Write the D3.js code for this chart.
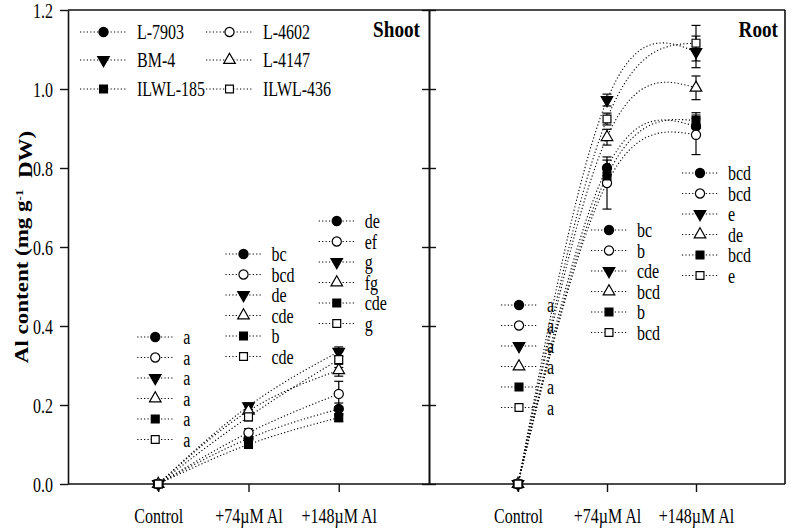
<!DOCTYPE html>
<html><head><meta charset="utf-8">
<script src="https://cdn.jsdelivr.net/npm/d3@7"></script>
<style>body{margin:0;background:#fff}svg{display:block}</style>
</head><body><svg id="c" width="792" height="530"></svg>
<script>
// ---------- data ----------
const categories = ["Control", "+74\u00b5M Al", "+148\u00b5M Al"];
const genotypes = ["L-7903", "L-4602", "BM-4", "L-4147", "ILWL-185", "ILWL-436"];
const yTicks = [0, 0.2, 0.4, 0.6, 0.8, 1.0, 1.2];

const shootMeans = [
  [0.000, 0.115, 0.190],
  [0.000, 0.130, 0.228],
  [0.000, 0.197, 0.335],
  [0.000, 0.185, 0.288],
  [0.000, 0.100, 0.168],
  [0.000, 0.170, 0.315]
];
const shootErrors = [
  [0.003, 0.010, 0.015],
  [0.003, 0.010, 0.032],
  [0.003, 0.008, 0.012],
  [0.003, 0.010, 0.015],
  [0.003, 0.010, 0.010],
  [0.003, 0.010, 0.020]
];
const rootMeans = [
  [0.000, 0.800, 0.905],
  [0.000, 0.762, 0.884],
  [0.000, 0.972, 1.094],
  [0.000, 0.878, 1.003],
  [0.000, 0.780, 0.920],
  [0.000, 0.924, 1.116]
];
const rootErrors = [
  [0.003, 0.020, 0.020],
  [0.003, 0.066, 0.050],
  [0.003, 0.015, 0.040],
  [0.003, 0.020, 0.030],
  [0.003, 0.020, 0.020],
  [0.003, 0.015, 0.045]
];
const shootLetters = [
  ["a", "a", "a", "a", "a", "a"],
  ["bc", "bcd", "de", "cde", "b", "cde"],
  ["de", "ef", "g", "fg", "cde", "g"]
];
const rootLetters = [
  ["a", "a", "a", "a", "a", "a"],
  ["bc", "b", "cde", "bcd", "b", "bcd"],
  ["bcd", "bcd", "e", "de", "bcd", "e"]
];

// ---------- styles ----------
const symbolShape = [d3.symbolCircle, d3.symbolCircle, d3.symbolTriangle, d3.symbolTriangle, d3.symbolSquare, d3.symbolSquare];
const symbolRot = [0, 0, 180, 0, 0, 0];
const symbolFill = ["#000", "#fff", "#000", "#fff", "#000", "#fff"];
const symbolSize = [66, 66, 58, 58, 62, 62];
const FONT = "'Liberation Serif','Times New Roman',serif";
const SQ = 0.8; // horizontal squeeze of the text
const DASH = "1.2,2.2";

const svg = d3.select("#c");
const pTop = 10, pBottom = 484, pLeft = 68, pMid = 429, pRight = 785;

const y = d3.scaleLinear().domain([0, 1.2]).range([pBottom, pTop]);
const xS = d3.scalePoint().domain(categories).range([pLeft, pMid]).padding(1);
const xR = d3.scalePoint().domain(categories).range([pMid, pRight]).padding(1);

function sym(g, i, cx, cy) {
  g.append("path")
    .attr("d", d3.symbol().type(symbolShape[i]).size(symbolSize[i])())
    .attr("transform", `translate(${cx},${cy}) rotate(${symbolRot[i]})`)
    .attr("fill", symbolFill[i]).attr("stroke", "#000").attr("stroke-width", 1.2);
}
function txt(g, x, yy, s, size, anchor, weight) {
  return g.append("text")
    .attr("transform", `translate(${x},${yy}) scale(${SQ},1)`)
    .attr("text-anchor", anchor || "start")
    .attr("font-family", FONT).attr("font-size", size)
    .attr("font-weight", weight || "normal")
    .attr("fill", "#000").text(s);
}

// ---------- axes ----------
function styleAxis(g) {
  g.select(".domain").attr("stroke", "#111").attr("stroke-width", 1.6);
  g.selectAll(".tick line").attr("stroke", "#111").attr("stroke-width", 1.4);
}
const ay = svg.append("g").attr("transform", `translate(${pLeft},0)`)
  .call(d3.axisLeft(y).tickValues(yTicks).tickFormat(d3.format(".1f")).tickSize(8).tickSizeOuter(0));
styleAxis(ay);
ay.selectAll(".tick text")
  .attr("x", -15 / SQ).attr("dy", "0.35em")
  .attr("transform", `scale(${SQ},1)`)
  .attr("font-family", FONT).attr("font-size", 20).attr("fill", "#000");
const ad1 = svg.append("g").attr("transform", `translate(${pMid},0)`)
  .call(d3.axisLeft(y).tickValues(yTicks).tickFormat("").tickSize(7).tickSizeOuter(0));
styleAxis(ad1);
const ad2 = svg.append("g").attr("transform", `translate(${pMid},0)`)
  .call(d3.axisRight(y).tickValues(yTicks).tickFormat("").tickSize(7).tickSizeOuter(0));
styleAxis(ad2);
[xS, xR].forEach(xs => {
  const ax = svg.append("g").attr("transform", `translate(0,${pBottom})`)
    .call(d3.axisBottom(xs).tickSize(8).tickSizeOuter(0));
  styleAxis(ax);
  ax.select(".domain").attr("d", `M${xs.range()[0]},0H${xs.range()[1]}`);
  ax.selectAll(".tick text")
    .attr("y", 39).attr("dy", 0)
    .attr("transform", `scale(${SQ},1)`)
    .attr("font-family", FONT).attr("font-size", 20).attr("fill", "#000");
});
svg.append("line").attr("x1", pLeft).attr("x2", pRight).attr("y1", pTop).attr("y2", pTop)
  .attr("stroke", "#111").attr("stroke-width", 1.6);
svg.append("line").attr("x1", pRight).attr("x2", pRight).attr("y1", pTop).attr("y2", pBottom)
  .attr("stroke", "#111").attr("stroke-width", 1.6);

// y title
svg.append("text")
  .attr("transform", `translate(22,${(pTop + pBottom) / 2}) scale(${SQ},1) rotate(-90)`)
  .attr("text-anchor", "middle").attr("dy", "0.35em")
  .attr("font-family", FONT).attr("font-size", 23).attr("font-weight", "bold")
  .call(t => {
    t.append("tspan").text("Al content (mg g");
    t.append("tspan").attr("dy", "-0.5em").attr("font-size", 13).text("-1");
    t.append("tspan").attr("dy", "0.5em").text("\u00a0\u00a0DW)");
  });

// ---------- panels ----------
function panel(xs, means, errs, letters, groupPos, name, nameX) {
  const g = svg.append("g");
  const line = d3.line().x((d, j) => xs(categories[j])).y(d => y(d)).curve(d3.curveNatural);
  means.forEach((m, i) => {
    g.append("path").attr("d", line(m)).attr("fill", "none")
      .attr("stroke", "#000").attr("stroke-width", 1.1).attr("stroke-dasharray", DASH);
  });
  means.forEach((m, i) => {
    m.forEach((v, j) => {
      const cx = xs(categories[j]);
      const lo = y(v - errs[i][j]), hi = y(v + errs[i][j]);
      g.append("line").attr("x1", cx).attr("x2", cx).attr("y1", lo).attr("y2", hi)
        .attr("stroke", "#000").attr("stroke-width", 1.2);
      [lo, hi].forEach(yy => g.append("line").attr("x1", cx - 4.5).attr("x2", cx + 4.5)
        .attr("y1", yy).attr("y2", yy).attr("stroke", "#000").attr("stroke-width", 1.2));
    });
  });
  means.forEach((m, i) => m.forEach((v, j) => sym(g, i, xs(categories[j]), y(v))));
  letters.forEach((col, j) => {
    const [dx, y0] = groupPos[j];
    const sx = xs(categories[j]) + dx;
    col.forEach((L, i) => {
      const yy = y0 + i * 20.5;
      g.append("line").attr("x1", sx - 18).attr("x2", sx + 18).attr("y1", yy).attr("y2", yy)
        .attr("stroke", "#000").attr("stroke-width", 1.1).attr("stroke-dasharray", DASH);
      sym(g, i, sx, yy);
      txt(g, sx + 28, yy, L, 20).attr("dy", "0.35em");
    });
  });
  txt(g, nameX, 37, name, 24, "end", "bold");
}
panel(xS, shootMeans, shootErrors, shootLetters, [[-3, 337], [-5, 254], [-2, 221]], "Shoot", 420);
panel(xR, rootMeans, rootErrors, rootLetters, [[1, 305], [2, 230], [4, 173]], "Root", 778);

// ---------- legend ----------
const lg = svg.append("g");
const legCols = [80, 206], legRows = [32, 60, 89];
genotypes.forEach((name, i) => {
  const lx = legCols[i % 2], ly = legRows[Math.floor(i / 2)];
  lg.append("line").attr("x1", lx).attr("x2", lx + 47).attr("y1", ly).attr("y2", ly)
    .attr("stroke", "#000").attr("stroke-width", 1.1).attr("stroke-dasharray", DASH);
  sym(lg, i, lx + 23.5, ly);
  txt(lg, lx + 57, ly, name, 20).attr("dy", "0.35em");
});
</script></body></html>
